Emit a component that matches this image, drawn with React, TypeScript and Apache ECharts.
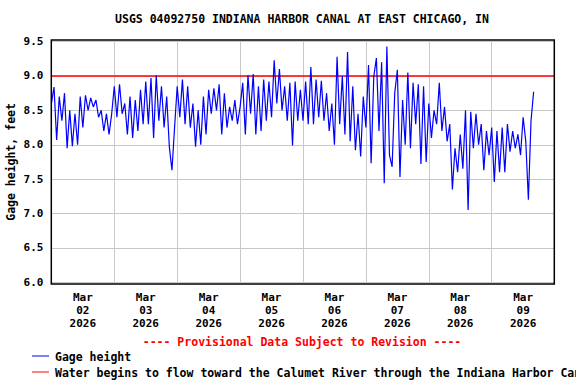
import React, { useEffect, useRef } from "react";
import * as echarts from "echarts";

const titleText = "USGS 04092750 INDIANA HARBOR CANAL AT EAST CHICAGO, IN";
const provisionalText = "---- Provisional Data Subject to Revision ----";
const yAxisName = "Gage height, feet";
const seriesName = "Gage height";
const thresholdName =
  "Water begins to flow toward the Calumet River through the Indiana Harbor Canal";

// x axis in hours since Mar 02 2026 00:00
const dayLabels = [
  "Mar\n02\n2026",
  "Mar\n03\n2026",
  "Mar\n04\n2026",
  "Mar\n05\n2026",
  "Mar\n06\n2026",
  "Mar\n07\n2026",
  "Mar\n08\n2026",
  "Mar\n09\n2026",
];
const yTicks = [6.0, 6.5, 7.0, 7.5, 8.0, 8.5, 9.0, 9.5];
const thresholdValue = 9.0;
const startHour = 0;
const stepHours = 1;

// Gage height, feet (hourly readings)
const gageHeight = [
  8.6, 8.84, 8.07, 8.7, 8.35, 8.75, 7.95, 8.5, 7.98, 8.45, 8.0, 8.7, 8.25, 8.72, 8.5, 8.68,
  8.55, 8.65, 8.4, 8.5, 8.2, 8.45, 8.15, 8.45, 8.85, 8.4, 8.88, 8.45, 8.6, 8.15, 8.7, 8.1,
  8.65, 8.2, 8.8, 8.3, 8.92, 8.3, 8.97, 8.1, 9.01, 8.35, 8.85, 8.25, 8.7, 7.97, 7.63, 8.25,
  8.85, 8.4, 8.95, 8.3, 8.85, 8.25, 8.6, 7.97, 8.5, 8.0, 8.7, 8.15, 8.8, 8.45, 8.82, 8.5,
  8.88, 8.15, 8.75, 8.25, 8.55, 8.35, 8.65, 8.3, 8.55, 8.9, 8.15, 9.01, 8.45, 9.03, 8.15, 8.85,
  8.2, 8.95, 8.35, 8.92, 8.4, 9.23, 8.6, 9.1, 8.5, 8.85, 8.35, 8.9, 7.99, 8.92, 8.35, 8.8,
  8.35, 8.92, 8.3, 9.13, 8.3, 8.95, 8.4, 8.93, 8.35, 8.75, 8.2, 8.6, 8.0, 9.28, 8.3, 9.0,
  8.15, 9.35, 8.05, 8.85, 7.92, 8.45, 7.83, 8.7, 8.25, 9.16, 7.73, 8.99, 9.26, 8.2, 9.2, 7.44,
  9.43, 7.85, 7.68, 8.75, 9.09, 7.53, 8.65, 8.0, 9.05, 7.95, 8.9, 8.3, 8.88, 7.72, 8.85, 7.75,
  8.6, 8.1, 8.5, 8.3, 8.9, 8.2, 8.55, 8.05, 8.3, 7.35, 7.95, 7.6, 8.15, 7.65, 8.5, 7.05,
  8.48, 7.95, 8.45, 8.0, 8.3, 7.63, 8.2, 7.85, 8.25, 7.46, 8.2, 7.6, 8.25, 7.6, 8.3, 7.9,
  8.2, 7.95, 8.15, 7.85, 8.4, 8.05, 7.2, 8.35, 8.77,
];

const FONT = "'DejaVu Sans Mono', 'Liberation Mono', monospace";

export default function App() {
  const ref = useRef<HTMLDivElement>(null);
  useEffect(() => {
    if (!ref.current) return;
    const chart = echarts.init(ref.current, undefined, { renderer: "svg" });
    const gl = 51.4;
    const gt = 41.6;
    const gw = 503.2;
    const gh = 240.7;
    const txt = (text: string, x: number, y: number, fill: string, align: string) => ({
      type: "text",
      x,
      y,
      silent: true,
      style: {
        text,
        fill,
        font: `bold 11.5px ${FONT}`,
        fontFamily: FONT,
        fontWeight: "bold",
        fontSize: 11.5,
        align,
        textAlign: align,
        verticalAlign: "middle",
        textVerticalAlign: "middle",
      },
    });
    chart.setOption({
      animation: false,
      backgroundColor: "#fff",
      grid: {
        left: gl,
        top: gt,
        width: gw,
        height: gh,
        containLabel: false,
        outerBoundsMode: "none",
      },
      xAxis: [
        {
          type: "value",
          min: 0,
          max: 192,
          interval: 24,
          axisLine: { show: false },
          axisTick: { show: false },
          axisLabel: { show: false },
          splitLine: { show: true, lineStyle: { color: "#c8c8c8", width: 1 } },
        },
        {
          type: "value",
          min: 0,
          max: 192,
          interval: 12,
          position: "bottom",
          axisLine: { show: false },
          axisTick: { show: false },
          splitLine: { show: false },
          axisLabel: {
            show: true,
            margin: 9,
            color: "#000",
            fontFamily: FONT,
            fontWeight: "bold",
            fontSize: 11,
            lineHeight: 13,
            formatter: (v: number) =>
              v % 24 === 12 ? dayLabels[(v - 12) / 24] ?? "" : "",
          },
        },
      ],
      yAxis: {
        type: "value",
        min: yTicks[0],
        max: yTicks[yTicks.length - 1],
        interval: 0.5,
        name: yAxisName,
        nameLocation: "middle",
        nameGap: 34,
        nameRotate: 90,
        nameMoveOverlap: false,
        nameTextStyle: {
          color: "#000",
          fontFamily: FONT,
          fontWeight: "bold",
          fontSize: 11.5,
        },
        axisLine: { show: false },
        axisTick: { show: false },
        axisLabel: {
          margin: 8,
          color: "#000",
          fontFamily: FONT,
          fontWeight: "bold",
          fontSize: 11,
          formatter: (v: number) => v.toFixed(1),
        },
        splitLine: { show: true, lineStyle: { color: "#c8c8c8", width: 1 } },
      },
      series: [
        {
          name: thresholdName,
          type: "line",
          xAxisIndex: 0,
          data: [
            [0, thresholdValue],
            [192, thresholdValue],
          ],
          showSymbol: false,
          symbol: "none",
          lineStyle: { color: "#ff0000", width: 1.3 },
          silent: true,
          z: 3,
        },
        {
          name: seriesName,
          type: "line",
          xAxisIndex: 0,
          data: gageHeight.map((v, i) => [startHour + i * stepHours, v]),
          showSymbol: false,
          symbol: "none",
          lineStyle: { color: "#0000ff", width: 1.2 },
          silent: true,
          z: 4,
        },
      ],
      graphic: [
        {
          type: "rect",
          silent: true,
          z: 10,
          shape: { x: 51.3, y: 40, width: 503, height: 244 },
          style: { fill: "none", stroke: "#000", lineWidth: 1.5 },
        },
        txt(titleText, 302, 19, "#000", "center"),
        txt(provisionalText, 302, 342, "#ff0000", "center"),
        {
          type: "line",
          silent: true,
          shape: { x1: 32, y1: 356, x2: 49, y2: 356 },
          style: { stroke: "#0000ff", lineWidth: 1 },
        },
        txt(seriesName, 55, 357, "#000", "left"),
        {
          type: "line",
          silent: true,
          shape: { x1: 32, y1: 372, x2: 49, y2: 372 },
          style: { stroke: "#ff0000", lineWidth: 1 },
        },
        txt(thresholdName, 55, 373, "#000", "left"),
      ],
    });
    return () => chart.dispose();
  }, []);
  return <div ref={ref} style={{ width: 576, height: 384, position: "absolute", left: 0, top: 0 }} />;
}
